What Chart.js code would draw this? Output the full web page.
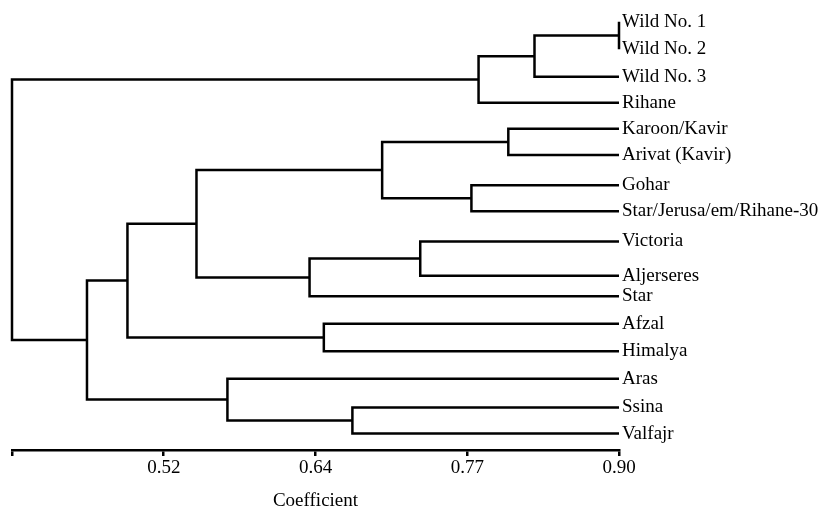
<!DOCTYPE html>
<html>
<head>
<meta charset="utf-8">
<script src="https://cdn.jsdelivr.net/npm/chart.js@4.4.1/dist/chart.umd.min.js"></script>
<style>
  html, body { margin: 0; padding: 0; background: #ffffff; }
  #wrap { width: 826px; height: 506px; position: relative; }
</style>
</head>
<body>
<div id="wrap"><canvas id="c"></canvas></div>
<script>
// Leaves (top to bottom) and their row positions
const leafNames = [
  "Wild No. 1", "Wild No. 2", "Wild No. 3", "Rihane",
  "Karoon/Kavir", "Arivat (Kavir)", "Gohar", "Star/Jerusa/em/Rihane-30",
  "Victoria", "Aljerseres", "Star", "Afzal", "Himalya",
  "Aras", "Ssina", "Valfajr"
];
const leafRows = [0, 1, 2, 2.95, 3.9, 4.85, 5.95, 6.9, 8, 9.25, 10, 11, 12, 13, 14.05, 15];

// Merges: node 16 + i joins mergeLeft[i] and mergeRight[i] at coefficient mergeCoef[i]
const mergeLeft  = [0,  16, 17, 4,  6,  19, 8,  22, 21, 11, 24, 14, 13, 26, 18];
const mergeRight = [1,  2,  3,  5,  7,  20, 9,  10, 23, 12, 25, 15, 27, 28, 29];
const mergeCoef  = [0.90, 0.829, 0.782, 0.807, 0.776, 0.701, 0.733, 0.640, 0.545, 0.652, 0.487, 0.676, 0.571, 0.453, 0.39];

// Axis: evenly spaced ticks, printed (rounded) labels
const axisMin = 0.39, axisMax = 0.90;
const tickValues = [0.39, 0.5175, 0.645, 0.7725, 0.90];
const tickLabels = ["", "0.52", "0.64", "0.77", "0.90"];
const axisTitle = "Coefficient";

// Build node positions and U-shaped link polylines
const nodeX = leafNames.map(() => axisMax);
const nodeY = leafRows.slice();
const datasets = [];
for (let i = 0; i < mergeCoef.length; i++) {
  const a = mergeLeft[i], b = mergeRight[i], h = mergeCoef[i];
  datasets.push({
    data: [
      {x: nodeX[a], y: nodeY[a]},
      {x: h, y: nodeY[a]},
      {x: h, y: nodeY[b]},
      {x: nodeX[b], y: nodeY[b]}
    ],
    showLine: true,
    borderColor: "#000000",
    borderWidth: 2.5,
    borderJoinStyle: "miter",
    borderCapStyle: "butt",
    pointRadius: 0,
    pointHoverRadius: 0,
    tension: 0,
    fill: false,
    clip: false
  });
  nodeX.push(h);
  nodeY.push((nodeY[a] + nodeY[b]) / 2);
}

const serif = "'Liberation Serif', 'Times New Roman', serif";

new Chart(document.getElementById("c"), {
  type: "scatter",
  data: { datasets },
  options: {
    responsive: true,
    maintainAspectRatio: false,
    animation: false,
    layout: { padding: { top: 10, left: 12, right: 0, bottom: 0 } },
    plugins: { legend: { display: false }, tooltip: { enabled: false } },
    scales: {
      x: {
        type: "linear",
        position: "bottom",
        min: axisMin,
        max: axisMax,
        afterBuildTicks: (s) => { s.ticks = tickValues.map(v => ({ value: v })); },
        afterFit: (s) => { s.height = 56; },
        ticks: {
          autoSkip: false,
          maxRotation: 0,
          padding: 3,
          color: "#000000",
          font: { family: serif, size: 19, lineHeight: 1 },
          callback: (v, i) => tickLabels[i]
        },
        grid: {
          display: true,
          drawOnChartArea: false,
          drawTicks: true,
          tickLength: 6,
          tickWidth: 2.5,
          tickColor: "#000000",
          color: "#000000",
          lineWidth: 2.5
        },
        border: { display: true, color: "#000000", width: 2.5 },
        title: {
          display: true,
          text: axisTitle,
          color: "#000000",
          font: { family: serif, size: 19, lineHeight: 0.55 },
          padding: { top: 0, bottom: 0 }
        }
      },
      y: {
        type: "linear",
        position: "right",
        reverse: true,
        min: -0.34,
        max: 15.6,
        afterBuildTicks: (s) => { s.ticks = leafRows.map(v => ({ value: v })); },
        afterFit: (s) => { s.width = 207; },
        ticks: {
          autoSkip: false,
          padding: 3,
          color: "#000000",
          font: { family: serif, size: 19, lineHeight: 1 },
          callback: (v, i) => leafNames[i]
        },
        grid: { display: false, drawTicks: false },
        border: { display: false }
      }
    }
  }
});
</script>
</body>
</html>
